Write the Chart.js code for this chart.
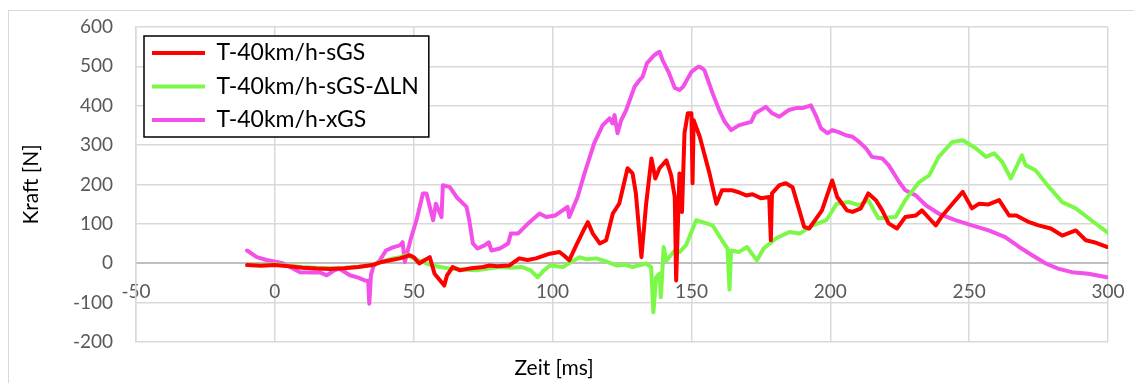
<!DOCTYPE html>
<html>
<head>
<meta charset="utf-8">
<script src="https://cdn.jsdelivr.net/npm/chart.js@4"></script>
<style>
  html, body { margin: 0; padding: 0; background: #fff; }
  #rahmen { position: absolute; left: 8px; top: 10px; width: 1200px; height: 420px; border: 1px solid #d9d9d9; }
  #wrap { position: absolute; left: 0; top: 0; width: 1134px; height: 383px; }
</style>
</head>
<body>
<div id="rahmen"></div>
<div id="wrap"><canvas id="kraftChart" width="1134" height="383"></canvas></div>
<script>
// Werte (Zeit in ms, Kraft in N)
var serienNamen = ["T-40km/h-sGS", "T-40km/h-sGS-\u0394LN", "T-40km/h-xGS"];
var serienFarben = ["#ff0000", "#7cf948", "#f250e8"];

var zeitRot = [-10,-5,0,5,10,15,20,25,30,35,38,42,45,48.6,50,52,54,55.8,57.5,61,62,64,66.5,70,75,77.3,80,84.5,88,91,94,99,102.5,104,106,108.5,111.5,112.7,114.5,117,119.3,121.7,124,127,128.8,130,132,133.7,135.6,137,138.5,141,142.7,144,144.5,145.7,146.6,147.5,148.7,150,150.4,150.8,153,156.5,159,161,164.7,167,169.7,172,175,178,178.6,179,181.7,184,186.4,190.6,192.4,197,200.7,202.5,206,208,211,213.7,216.4,218.7,221,224,227,230.8,233,235.6,238,240.4,244,247.7,251,253.6,257,260.8,264.4,267,271.6,275,279.4,283.5,288.4,292,295,299.6];
var kraftRot = [-5,-7,-5,-8,-12,-14,-15,-13,-10,-5,2,8,12,20,15,-1,8,15,-27,-57,-31,-10,-18,-14,-10,-6,-8,-6,12,8,12,24,28,20,7,45,88,104,75,50,58,126,151,241,228,177,15,151,266,215,241,261,223,168,-44,228,130,330,381,381,203,363,321,228,151,185,185,180,172,175,165,168,58,177,198,203,193,92,88,134,210,168,134,130,139,177,160,134,101,88,117,121,134,114,96,121,151,181,139,151,149,160,121,121,104,96,88,70,83,58,53,41];

var zeitGruen = [-10,-5,0,5,10,15,20,25,30,35,38,42.6,45,47.4,50,54.6,58,63,67,72.6,77,81,85,89,92,94.6,97,99,103.7,106,109.7,112,115.7,119,123,126,128.8,133.7,135.5,136.3,137.3,138.5,139,140,141,144,145.7,148,151.7,154,157.6,161,163,163.7,164.3,167,170,173.6,176,180.5,185.3,189,193.7,198.6,202.3,206.8,210.4,213.7,217.3,223.5,227,232,235.6,239,244,247.7,252.4,256,259,261.9,265,269,270.3,273.9,278.8,283.5,288.4,293,300.4];
var kraftGruen = [-5,-5,-3,-7,-10,-12,-13,-12,-10,-5,3,12,15,20,12,-1,-8,-14,-16,-18,-14,-10,-12,-10,-18,-36,-18,-6,-10,0,15,10,12,5,-6,-4,-10,-1,-10,-125,-36,-27,-87,41,7,32,28,45,109,104,96,58,37,-67,32,28,41,7,37,63,79,75,96,109,151,155,147,160,114,117,160,206,223,270,308,312,292,270,279,257,215,274,249,236,193,155,139,114,75];

var zeitMagenta = [-10,-6.5,-3,0.7,3,6,9,13,16,18.7,21,23,25,27,30,32.4,33.6,34,34.6,35.5,37.8,40,42.5,45,46,46.8,49,51,53.3,54.6,57,58,60,60.5,63,65.4,69,70,71.3,73,75.5,77,78,81,84,85,87.5,88.7,91.7,95.3,97.7,101,105.4,106,109,111.5,115,118,120.5,121.6,122.3,123.4,124.7,126.5,129.5,131.3,132.4,134,136.7,138.5,139.6,142,144,145.7,147,150,152.4,153.5,154.7,157.6,160,162,164.3,167,171.5,173,176.8,179,181.7,185,187.7,190,193,195,196.6,199,200.7,203,205.6,208,210.4,212.8,215,218.7,221,224.8,227,230.8,234.4,239,245,251,257,263,268,272.7,277.6,282,287,293,299.6];
var kraftMagenta = [32,15,8,3,-1,-12,-23,-24,-23,-31,-20,-14,-22,-31,-37,-44,-45,-103,-30,-8,7,32,40,45,53,3,63,109,177,177,109,151,117,198,193,168,143,109,50,37,45,53,32,37,50,75,75,83,104,126,117,121,143,117,168,228,305,350,368,355,376,330,363,389,448,465,473,508,529,537,516,482,445,440,448,486,499,497,490,432,389,359,338,350,359,381,397,381,372,389,394,394,401,372,343,330,338,333,325,321,308,292,270,266,249,206,185,172,147,126,109,96,83,66,41,20,-1,-14,-23,-27,-36];

var xTicks = [-50, 0, 50, 100, 150, 200, 250, 300];
var yTicks = [-200, -100, 0, 100, 200, 300, 400, 500, 600];

function punkte(xs, ys) {
    var out = [];
    for (let i = 0; i < xs.length; i++) {
        out.push({x: xs[i], y: ys[i]});
    }
    return out;
}

var schrift = "Lato, 'Open Sans', sans-serif";

// Legende oben links im Diagramm, weiss hinterlegt mit schwarzem Rahmen
var legendeRahmen = {
    id: "legendeRahmen",
    afterLayout(chart) {
        var lg = chart.legend;
        var p = lg.options.labels.padding;
        lg.left = chart.chartArea.left + 16 - p;
        lg.top = chart.chartArea.top + 14.5 - p;
        lg.right = lg.left + lg.width;
        lg.bottom = lg.top + lg.height;
    },
    afterDatasetsDraw(chart) {
        var boxes = chart.legend.legendHitBoxes;
        if (!boxes || !boxes.length) return;
        var l = Infinity, t = Infinity, r = -Infinity, b = -Infinity;
        boxes.forEach(function(h) {
            l = Math.min(l, h.left); t = Math.min(t, h.top);
            r = Math.max(r, h.left + h.width); b = Math.max(b, h.top + h.height);
        });
        var ctx = chart.ctx;
        ctx.save();
        ctx.fillStyle = "#ffffff";
        ctx.fillRect(l - 8, t - 5.5, r - l + 18, b - t + 11);
        ctx.strokeStyle = "#000000";
        ctx.lineWidth = 1.5;
        ctx.strokeRect(l - 8, t - 5.5, r - l + 18, b - t + 11);
        ctx.restore();
        chart.legend.draw();
    }
};

var datasets = [];
var alleX = [zeitRot, zeitGruen, zeitMagenta];
var alleY = [kraftRot, kraftGruen, kraftMagenta];
for (let i = 0; i < 3; i++) {
    datasets.push({
        label: serienNamen[i],
        data: punkte(alleX[i], alleY[i]),
        borderColor: serienFarben[i],
        backgroundColor: serienFarben[i],
        borderWidth: 4,
        pointRadius: 0,
        tension: 0,
        borderJoinStyle: "round",
        borderCapStyle: "round"
    });
}

var ctx = document.getElementById("kraftChart").getContext("2d");
var chart = new Chart(ctx, {
    type: "line",
    data: { datasets: datasets },
    plugins: [legendeRahmen],
    options: {
        responsive: false,
        animation: false,
        layout: { padding: { left: 0, right: 26, top: 27, bottom: 2 } },
        plugins: {
            legend: {
                position: "chartArea",
                align: "start",
                labels: {
                    usePointStyle: true,
                    pointStyle: "line",
                    pointStyleWidth: 53,
                    boxWidth: 53,
                    padding: 10.5,
                    color: "#000000",
                    font: { family: schrift, size: 23 }
                }
            },
            title: {
                display: true,
                position: "bottom",
                text: "Zeit [ms]",
                color: "#000000",
                padding: { top: 14, bottom: 0 },
                font: { family: schrift, size: 21, weight: "normal" }
            },
            tooltip: { enabled: false }
        },
        scales: {
            x: {
                type: "linear",
                position: { y: 0 },
                min: -50,
                max: 300,
                afterBuildTicks: function(scale) {
                    scale.ticks = xTicks.map(function(v) { return {value: v}; });
                },
                afterFit: function(scale) {
                    scale.paddingLeft = 0;
                    scale.paddingRight = 0;
                },
                ticks: {
                    color: "#595959",
                    padding: 17,
                    maxRotation: 0,
                    font: { family: schrift, size: 19 }
                },
                grid: { color: "#d9d9d9", lineWidth: 1.5, drawTicks: false },
                border: { color: "#bfbfbf", width: 2 }
            },
            y: {
                type: "linear",
                min: -200,
                max: 600,
                afterBuildTicks: function(scale) {
                    scale.ticks = yTicks.map(function(v) { return {value: v}; });
                },
                afterFit: function(scale) {
                    scale.width = 136;
                    scale.paddingTop = 0;
                    scale.paddingBottom = 0;
                },
                ticks: {
                    color: "#595959",
                    padding: 23,
                    font: { family: schrift, size: 19 }
                },
                grid: { color: "#d9d9d9", lineWidth: 1.5, drawTicks: false },
                border: { color: "#d9d9d9", width: 1.5 },
                title: {
                    display: true,
                    text: "Kraft [N]",
                    color: "#000000",
                    padding: { top: 19, bottom: 0 },
                    font: { family: schrift, size: 21 }
                }
            }
        }
    }
});
</script>
</body>
</html>
